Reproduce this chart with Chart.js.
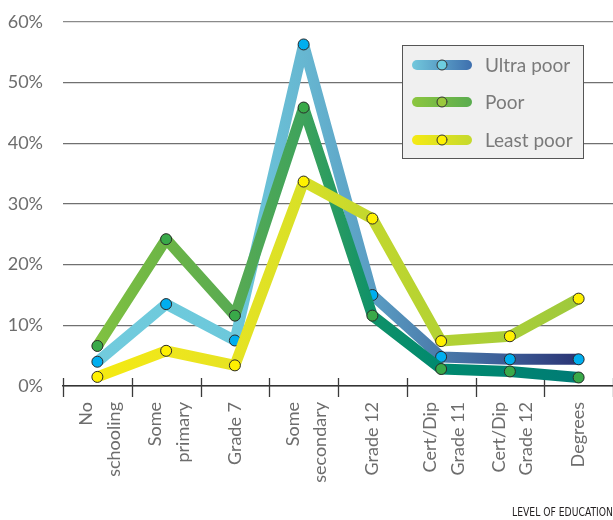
<!DOCTYPE html>
<html>
<head>
<meta charset="utf-8">
<script src="https://cdn.jsdelivr.net/npm/chart.js@4.4.1/dist/chart.umd.min.js"></script>
<style>
    html, body { margin: 0; padding: 0; background: #ffffff; }
    #grafico { display: block; }
</style>
</head>
<body>
<canvas id="grafico" width="613" height="520"></canvas>
<script>
/*Dados do gráfico*/
var categorias = [['No', 'schooling'], ['Some', 'primary'], ['Grade 7'], ['Some', 'secondary'], ['Grade 12'], ['Cert/Dip', 'Grade 11'], ['Cert/Dip', 'Grade 12'], ['Degrees']];
var series = ['Ultra poor', 'Poor', 'Least poor'];
var ultraPobre = [4.0, 13.5, 7.5, 56.3, 15.0, 4.8, 4.4, 4.4];
var pobre = [6.6, 24.2, 11.6, 45.9, 11.6, 2.8, 2.4, 1.4];
var menosPobre = [1.5, 5.8, 3.4, 33.7, 27.6, 7.4, 8.2, 14.4];
var ticksY = [0, 10, 20, 30, 40, 50, 60];
var tituloX = 'LEVEL OF EDUCATION';

/*Cores das linhas (uma por categoria)*/
var coresAzul = ['#72cbdd', '#6ecadc', '#6cc8db', '#67b7d1', '#5a9dc3', '#4a7aaa', '#3b5a95', '#2b3474'];
var coresVerde = ['#80c141', '#6cb546', '#58aa53', '#3ea35c', '#0f9168', '#00896f', '#008471', '#007b75'];
var coresAmarelo = ['#f4ea10', '#eee61d', '#e6e323', '#d8e027', '#c2d72e', '#b3d233', '#a9ce38', '#9ec93c'];

var legendaCores = [['#72c8dc', '#3e6fae'], ['#8cc63f', '#5aac4f'], ['#f5ea14', '#c5d92e']];
var legendaPontos = ['#6dcde0', '#9ac83c', '#fff200'];

var fonte = 'Lato, "Open Sans", sans-serif';

/*Função Gradiente*/
function Gradiente(chart, cores) {
    var area = chart.chartArea;
    if (!area) {
        return cores[0];
    }
    var escalaX = chart.scales.x;
    var g = chart.ctx.createLinearGradient(area.left, 0, area.right, 0);
    var indice = 0;

    while (indice < cores.length) {
        var x = escalaX.getPixelForValue(indice);
        var pos = (x - area.left) / (area.right - area.left);
        g.addColorStop(Math.min(1, Math.max(0, pos)), cores[indice]);
        indice++;
    }

    return g;
}

/*Plugin: ticks, rótulos do eixo X, título e legenda*/
var extras = {
    id: 'extras',
    beforeDatasetsDraw: function (chart) {
        var ctx = chart.ctx;
        var escalaX = chart.scales.x;
        var area = chart.chartArea;
        var largura = escalaX.getPixelForValue(1) - escalaX.getPixelForValue(0);

        ctx.save();
        ctx.strokeStyle = '#3a3a3a';
        ctx.lineWidth = 1.3;
        for (var i = 0; i <= categorias.length; i++) {
            var x = Math.round(escalaX.getPixelForValue(i) - largura / 2) + 0.5;
            ctx.beginPath();
            ctx.moveTo(x, area.bottom - 8);
            ctx.lineTo(x, area.bottom + 11);
            ctx.stroke();
        }
        ctx.restore();
    },
    afterDraw: function (chart) {
        var ctx = chart.ctx;
        var escalaX = chart.scales.x;
        var area = chart.chartArea;
        var alturaLinha = 27.5;

        /*Rótulos do eixo X*/
        ctx.save();
        ctx.font = '18px ' + fonte;
        ctx.fillStyle = '#6d6d6d';
        ctx.textAlign = 'right';
        ctx.textBaseline = 'middle';
        for (var i = 0; i < categorias.length; i++) {
            var px = escalaX.getPixelForValue(i);
            var linhas = categorias[i];
            var desvio = linhas.length > 1 ? 3 : 0;
            for (var j = 0; j < linhas.length; j++) {
                var cx = px + desvio + (j - (linhas.length - 1) / 2) * alturaLinha;
                ctx.save();
                ctx.translate(cx, area.bottom + 16);
                ctx.rotate(-Math.PI / 2);
                ctx.fillText(linhas[j], 0, 0);
                ctx.restore();
            }
        }
        ctx.restore();

        /*Título do eixo X*/
        ctx.save();
        ctx.font = '12.5px "Liberation Sans Narrow", "DejaVu Sans Condensed", sans-serif';
        ctx.fillStyle = '#231f20';
        ctx.textAlign = 'right';
        ctx.textBaseline = 'middle';
        ctx.fillText(tituloX, chart.width, 513, 101);
        ctx.restore();

        /*Legenda*/
        ctx.save();
        ctx.fillStyle = '#f0f0f0';
        ctx.fillRect(402, 45, 181, 113);
        ctx.strokeStyle = '#555555';
        ctx.lineWidth = 1;
        ctx.strokeRect(402.5, 45.5, 181, 113);

        var ys = [65, 102, 140];
        for (var k = 0; k < series.length; k++) {
            var g = ctx.createLinearGradient(412, 0, 472, 0);
            g.addColorStop(0, legendaCores[k][0]);
            g.addColorStop(1, legendaCores[k][1]);
            ctx.strokeStyle = g;
            ctx.lineWidth = 10;
            ctx.lineCap = 'round';
            ctx.beginPath();
            ctx.moveTo(417, ys[k]);
            ctx.lineTo(467, ys[k]);
            ctx.stroke();

            ctx.beginPath();
            ctx.arc(442, ys[k], 5, 0, Math.PI * 2);
            ctx.fillStyle = legendaPontos[k];
            ctx.fill();
            ctx.lineWidth = 1;
            ctx.strokeStyle = '#333333';
            ctx.stroke();

            ctx.font = '19px ' + fonte;
            ctx.fillStyle = '#7a7a7a';
            ctx.textAlign = 'left';
            ctx.textBaseline = 'middle';
            ctx.fillText(series[k], 485, ys[k] + 1);
        }
        ctx.restore();
    }
};

/*Construção do gráfico*/
var ctx = document.getElementById('grafico').getContext('2d');

var grafico = new Chart(ctx, {
    type: 'line',

    data: {
        labels: categorias,
        datasets: [{
            label: series[0],
            data: ultraPobre,
            order: 2,
            borderColor: function (context) { return Gradiente(context.chart, coresAzul); },
            pointBackgroundColor: '#00aeef',
            pointBorderColor: '#2b2b2b'
        }, {
            label: series[1],
            data: pobre,
            order: 1,
            borderColor: function (context) { return Gradiente(context.chart, coresVerde); },
            pointBackgroundColor: '#39a949',
            pointBorderColor: '#2b2b2b'
        }, {
            label: series[2],
            data: menosPobre,
            order: 0,
            borderColor: function (context) { return Gradiente(context.chart, coresAmarelo); },
            pointBackgroundColor: '#fff100',
            pointBorderColor: '#2b2b2b'
        }]
    },
    options: {
        responsive: false,
        animation: false,
        layout: {
            autoPadding: false,
            padding: { top: 22, right: -2, bottom: 0, left: 0 }
        },
        elements: {
            line: {
                borderWidth: 11,
                borderCapStyle: 'round',
                borderJoinStyle: 'round',
                tension: 0,
                fill: false
            },
            point: {
                radius: 5.5,
                borderWidth: 1,
                hoverRadius: 5.5
            }
        },
        scales: {
            x: {
                type: 'category',
                offset: true,
                grid: { display: false },
                border: { display: true, color: '#333333', width: 1.5 },
                ticks: { display: false },
                afterFit: function (escala) {
                    escala.height = 134;
                    escala.paddingLeft = 0;
                    escala.paddingRight = 0;
                }
            },
            y: {
                min: 0,
                max: 60,
                afterBuildTicks: function (escala) {
                    escala.ticks = ticksY.map(function (v) { return { value: v }; });
                },
                grid: {
                    color: function (context) { return context.tick.value === 60 ? '#8a8a8a' : '#707070'; },
                    lineWidth: 1.2,
                    drawTicks: false
                },
                border: { display: false },
                ticks: {
                    padding: 20,
                    color: '#6d6d6d',
                    font: { family: fonte, size: 18 },
                    callback: function (valor) { return valor + '%'; }
                },
                afterFit: function (escala) {
                    escala.width = 63;
                    escala.paddingTop = 0;
                    escala.paddingBottom = 0;
                }
            }
        },
        plugins: {
            legend: { display: false },
            tooltip: { enabled: false },
            title: { display: false }
        }
    },
    plugins: [extras]
});
</script>
</body>
</html>
